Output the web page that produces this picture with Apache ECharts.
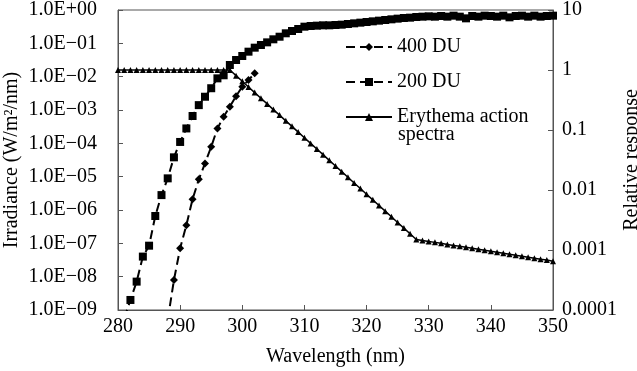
<!DOCTYPE html>
<html><head><meta charset="utf-8">
<script src="https://cdn.jsdelivr.net/npm/echarts@6/dist/echarts.min.js"></script>
<style>html,body{margin:0;padding:0;background:#fff}#c{width:637px;height:371px}</style>
</head><body><div id="c"></div>
<script>
// ---- data ----
const wavelength400 = [288,289,290,291,292,293,294,295,296,297,298,299,300,301,302];
const irradiance400 = [5.0e-10,7.9e-9,7.1e-8,3.5e-7,2.1e-6,8.3e-6,2.5e-5,7.9e-5,2.8e-4,6.3e-4,1.26e-3,2.6e-3,5.0e-3,7.9e-3,1.26e-2];

const wavelength200 = [281,282,283,284,285,286,287,288,289,290,291,292,293,294,295,296,297,298,299,300,
  301,302,303,304,305,306,307,308,309,310,311,312,313,314,315,316,317,318,319,320,
  321,322,323,324,325,326,327,328,329,330,331,332,333,334,335,336,337,338,339,340,
  341,342,343,344,345,346,347,348,349,350];
const irradiance200 = [5.6e-10,2.0e-9,7.1e-9,4.0e-8,8.5e-8,6.6e-7,2.8e-6,8.9e-6,3.8e-5,1.1e-4,
  2.8e-4,6.6e-4,1.4e-3,2.5e-3,4.5e-3,8.9e-3,1.1e-2,2.24e-2,3.16e-2,4.17e-2,
  5.62e-2,7.41e-2,8.91e-2,0.107,0.132,0.158,0.2,0.234,0.269,0.316,
  0.331,0.339,0.347,0.347,0.355,0.363,0.38,0.398,0.417,0.437,
  0.457,0.479,0.501,0.525,0.55,0.575,0.589,0.617,0.631,0.646,
  0.631,0.661,0.631,0.676,0.631,0.562,0.661,0.631,0.676,0.661,
  0.631,0.676,0.603,0.661,0.676,0.631,0.676,0.631,0.661,0.676];

const wavelengthEry = [280,281,282,283,284,285,286,287,288,289,290,291,292,293,294,295,296,297,298,299,
  300,301,302,303,304,305,306,307,308,309,310,311,312,313,314,315,316,317,318,319,
  320,321,322,323,324,325,326,327,328,329,330,331,332,333,334,335,336,337,338,339,
  340,341,342,343,344,345,346,347,348,349,350];
const erythema = [1,1,1,1,1,1,1,1,1,1,1,1,1,1,1,1,1,1,1,0.805,
  0.649,0.522,0.42,0.338,0.272,0.219,0.177,0.142,0.115,0.0923,
  0.0743,0.0598,0.0482,0.0388,0.0312,0.0251,0.0202,0.0163,0.0131,0.0106,
  0.00851,0.00685,0.00552,0.00444,0.00358,0.00288,0.00232,0.00187,0.0015,0.00144,
  0.00139,0.00134,0.00129,0.00124,0.00119,0.00115,0.00111,0.00107,0.00103,0.00099,
  0.00095,0.00092,0.00088,0.00085,0.00082,0.00079,0.00076,0.00073,0.0007,0.00068,0.00065];

const seriesNames = ['400 DU', '200 DU', 'Erythema action spectra'];
const legendLabels = ['400 DU', '200 DU', 'Erythema action'];
const legendSecondLine = 'spectra';
const leftTickLabels = ['1.0E\u221209','1.0E\u221208','1.0E\u221207','1.0E\u221206','1.0E\u221205',
  '1.0E\u221204','1.0E\u221203','1.0E\u221202','1.0E\u221201','1.0E+00'];
const rightTickLabels = ['0.0001','0.001','0.01','0.1','1','10'];
const xTickLabels = ['280','290','300','310','320','330','340','350'];

// ---- chart ----
const FONT = 'Liberation Serif';
const axisColor = '#555';
const pairs = (xs, ys) => xs.map((x, i) => [x, ys[i]]);

const chart = echarts.init(document.getElementById('c'), null, {renderer: 'canvas'});
chart.setOption({
  animation: false,
  backgroundColor: '#fff',
  textStyle: {fontFamily: FONT, color: '#000'},
  grid: {left: 118, right: 84, top: 10, bottom: 61, containLabel: false, outerBoundsMode: 'none',
    show: true, borderColor: axisColor, borderWidth: 1},
  legend: {
    orient: 'vertical', left: 345, top: 37, itemWidth: 46, itemHeight: 10, itemGap: 15, padding: 0,
    textStyle: {fontFamily: FONT, fontSize: 20, color: '#000'},
    formatter: name => legendLabels[seriesNames.indexOf(name)],
    data: seriesNames
  },
  graphic: [{
    type: 'text', left: 398, top: 125,
    style: {text: legendSecondLine, font: '20px "Liberation Serif"', fill: '#000'}
  }],
  xAxis: {
    type: 'value', min: 280, max: 350, interval: 10,
    name: 'Wavelength (nm)', nameLocation: 'middle', nameGap: 37, nameMoveOverlap: false,
    nameTextStyle: {fontFamily: FONT, fontSize: 20, color: '#000'},
    axisLine: {lineStyle: {color: axisColor}},
    axisTick: {inside: true, length: 5, lineStyle: {color: axisColor}},
    axisLabel: {fontFamily: FONT, fontSize: 20, color: '#000', margin: 7,
      formatter: v => xTickLabels[Math.round((v - 280) / 10)]},
    splitLine: {show: false}
  },
  yAxis: [{
    type: 'log', logBase: 10, min: 1e-9, max: 1, interval: 1,
    name: 'Irradiance (W/m\u00b2/nm)', nameLocation: 'middle', nameGap: 96, nameRotate: 90,
    nameMoveOverlap: false,
    nameTextStyle: {fontFamily: FONT, fontSize: 20, color: '#000'},
    axisLine: {show: true, lineStyle: {color: axisColor}},
    axisTick: {inside: true, length: 5, lineStyle: {color: axisColor}},
    axisLabel: {fontFamily: FONT, fontSize: 20, color: '#000', margin: 21,
      formatter: v => leftTickLabels[Math.round(Math.log10(v)) + 9]},
    splitLine: {show: false}
  }, {
    type: 'log', logBase: 10, min: 1e-4, max: 10, interval: 1, position: 'right',
    name: 'Relative response', nameLocation: 'middle', nameGap: 69, nameRotate: 90,
    nameMoveOverlap: false,
    nameTextStyle: {fontFamily: FONT, fontSize: 20, color: '#000'},
    axisLine: {show: true, lineStyle: {color: axisColor}},
    axisTick: {inside: true, length: 5, lineStyle: {color: axisColor}},
    axisLabel: {fontFamily: FONT, fontSize: 20, color: '#000', margin: 9,
      formatter: v => rightTickLabels[Math.round(Math.log10(v)) + 4]},
    splitLine: {show: false}
  }],
  series: [{
    name: seriesNames[0], type: 'line', yAxisIndex: 0,
    data: pairs(wavelength400, irradiance400),
    symbol: 'diamond', symbolSize: 8, showAllSymbol: true,
    lineStyle: {color: '#000', width: 2, type: [9, 5]},
    itemStyle: {color: '#000'}
  }, {
    name: seriesNames[1], type: 'line', yAxisIndex: 0,
    data: pairs(wavelength200, irradiance200),
    symbol: 'rect', symbolSize: 8, showAllSymbol: true,
    lineStyle: {color: '#000', width: 2, type: [9, 5]},
    itemStyle: {color: '#000'}
  }, {
    name: seriesNames[2], type: 'line', yAxisIndex: 1,
    data: pairs(wavelengthEry, erythema),
    symbol: 'triangle', symbolSize: 6, showAllSymbol: true,
    lineStyle: {color: '#000', width: 1.5},
    itemStyle: {color: '#000'}
  }]
});
</script>
</body></html>
